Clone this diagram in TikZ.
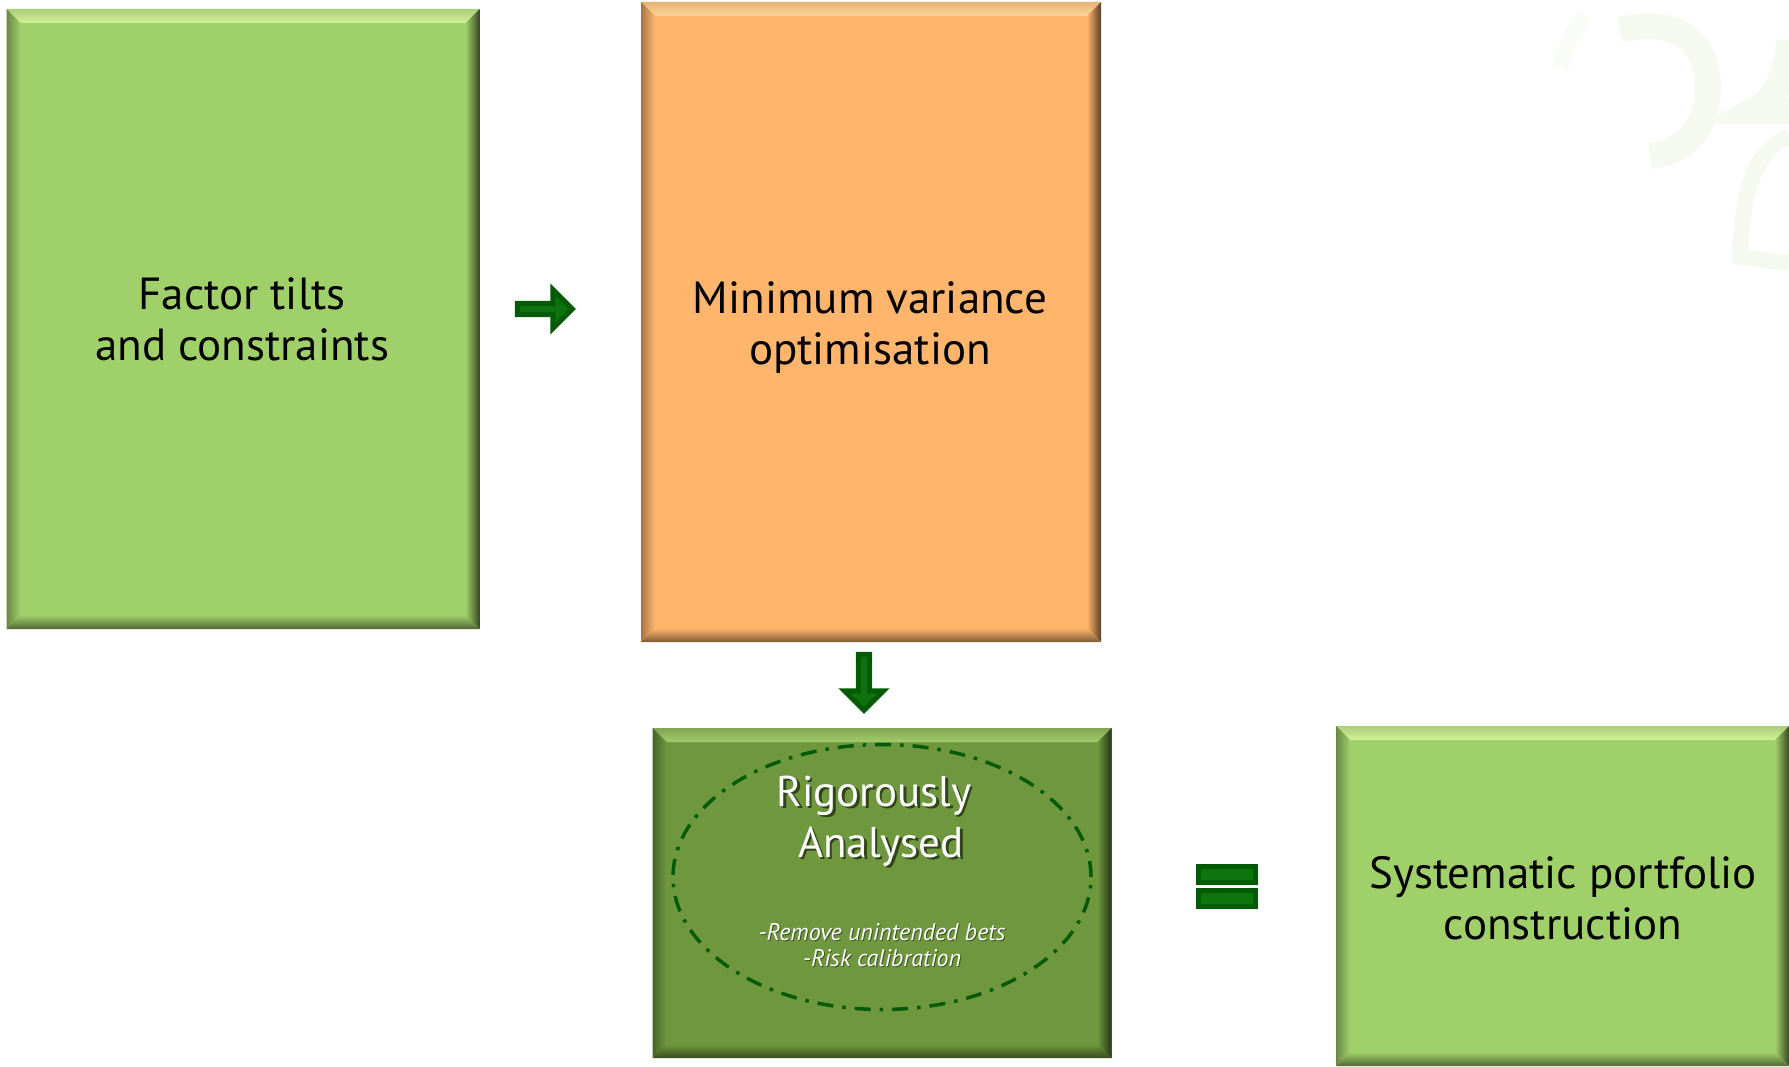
\documentclass[tikz,border=0pt]{standalone}
\usepackage{fontspec}
\setmainfont{PT Sans}
\usetikzlibrary{shapes.arrows,shapes.geometric,calc,shadings}
\definecolor{bgreen}{HTML}{A0D06A}
\definecolor{bgreenT}{HTML}{D2F296}
\definecolor{borange}{HTML}{FFB56B}
\definecolor{borangeT}{HTML}{FFD596}
\definecolor{dgreen}{HTML}{6F983E}
\definecolor{dgreenT}{HTML}{A2CC6C}
\definecolor{arrowfill}{HTML}{0D730D}
\definecolor{arrowline}{HTML}{055A05}
\definecolor{wmark}{HTML}{F6F9EF}
\tikzset{
  x=1pt,y=-1pt,
  panel/.style={rectangle,inner sep=0pt,outer sep=0pt},
  boxtext/.style={inner sep=0pt,align=center,text=black,font=\fontsize{45}{51}\selectfont},
  blockarrow/.style={single arrow,draw=arrowline,fill=arrowfill,line width=5pt,inner sep=0pt,outer sep=0pt,single arrow head extend=#1,single arrow tip angle=90,miter limit=4},
  eqbar/.style={rectangle,draw=arrowline,fill=arrowfill,line width=5pt,inner sep=0pt,minimum width=57pt,minimum height=16pt},
  wm/.style={draw=wmark,line width=26pt,line cap=butt},
  wm2/.style={draw=wmark!50!white,line width=16pt},
  lab/.style={inner sep=0pt,align=center,text=white},
}
% name, centre x, centre y, w, h, base, top
\newcommand{\bevelbox}[7]{%
  \node[panel,fill=#6,minimum width=#4pt,minimum height=#5pt] (#1) at (#2,#3) {};
  \def\bv{14}
  \shade[top color=#7!60!#6!90!black,bottom color=#7]
     (#1.north west) -- (#1.north east) -- ([shift={(-\bv,\bv)}]#1.north east) -- ([shift={(\bv,\bv)}]#1.north west) -- cycle;
  \shade[right color=#6!35!black,middle color=#6!88!black,left color=#6]
     (#1.north east) -- (#1.south east) -- ([shift={(-\bv,-\bv)}]#1.south east) -- ([shift={(-\bv,\bv)}]#1.north east) -- cycle;
  \shade[bottom color=#6!50!black,middle color=#6!85!black,top color=#6]
     (#1.south west) -- (#1.south east) -- ([shift={(-\bv,-\bv)}]#1.south east) -- ([shift={(\bv,-\bv)}]#1.south west) -- cycle;
  \shade[left color=#6!65!black,middle color=#6!90!black,right color=#6]
     (#1.north west) -- (#1.south west) -- ([shift={(\bv,-\bv)}]#1.south west) -- ([shift={(\bv,\bv)}]#1.north west) -- cycle;
}
\begin{document}
\begin{tikzpicture}
\useasboundingbox (0,0) rectangle (1789,1067);
% watermark
\draw[wm] (1620,30) .. controls (1670,18) and (1706,35) .. (1708,85) .. controls (1708,125) and (1690,150) .. (1650,156);
\draw[wm] (1789,40) .. controls (1788,75) and (1775,100) .. (1753,111) -- (1789,111);
\draw[wm,line width=16pt] (1789,137) .. controls (1755,150) and (1742,190) .. (1740,257) -- (1789,263);
\draw[wm2] (1585,15) .. controls (1570,35) and (1565,50) .. (1560,68);

\bevelbox{factor}{243}{319}{473}{620}{bgreen}{bgreenT}
\bevelbox{minvar}{871}{322}{460}{640}{borange}{borangeT}
\bevelbox{rigor}{882}{893}{459}{330}{dgreen}{dgreenT}
\bevelbox{system}{1562.5}{896}{453}{340}{bgreen}{bgreenT}

\node[boxtext] (factortext) at (242,319) {Factor tilts\\and constraints};
\node[boxtext] (minvartext) at (870,327.5) {Minimum variance\\optimisation};
\node[boxtext] (systemtext) at (1563,898) {Systematic portfolio\\construction};

\node[draw=arrowline,ellipse,line width=3.5pt,minimum width=418pt,minimum height=265pt,inner sep=0pt,
  dash pattern=on 16pt off 9pt on 3.5pt off 9pt] (oval) at (882,877) {};

\node[lab,text=black!55!dgreen,font=\fontsize{43}{51}\selectfont] (rigshadow1) at (876.5,798) {Rigorously};
\node[lab,font=\fontsize{43}{51}\selectfont] (rigtext1) at (874,795.5) {Rigorously};
\node[lab,text=black!55!dgreen,font=\fontsize{43}{51}\selectfont] (rigshadow2) at (883.5,849) {Analysed};
\node[lab,font=\fontsize{43}{51}\selectfont] (rigtext2) at (881,846.5) {Analysed};
\node[lab,text=black!45!dgreen,font=\fontsize{24}{26}\selectfont\itshape] (notes1) at (883,946) {-Remove unintended bets\\-Risk calibration};
\node[lab,font=\fontsize{24}{26}\selectfont\itshape] (notes2) at (882,945) {-Remove unintended bets\\-Risk calibration};

\node[blockarrow=6pt,minimum height=55pt,minimum width=39pt] (arrowR) at (542,309) {};
\node[blockarrow=6pt,rotate=-90,minimum height=56pt,minimum width=39pt] (arrowD) at (864,679.5) {};
\node[eqbar] (eqtop) at (1227,874) {};
\node[eqbar] (eqbot) at (1227,898) {};
\end{tikzpicture}
\end{document}
